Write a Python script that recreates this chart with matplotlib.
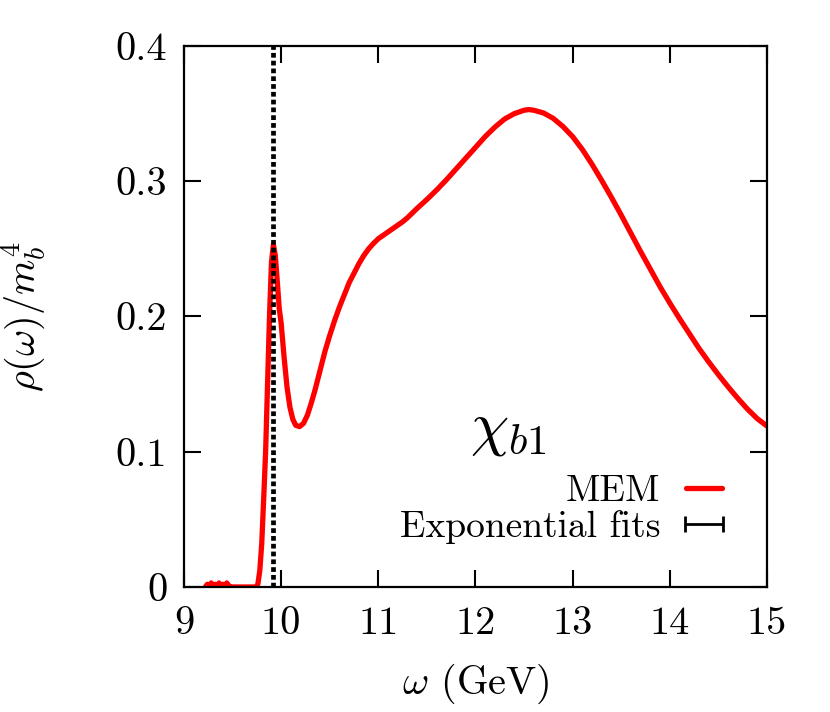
import numpy as np
import matplotlib
matplotlib.use("Agg")
import matplotlib.pyplot as plt

plt.rcParams['font.family'] = 'serif'
plt.rcParams['font.serif'] = ['cmr10']
plt.rcParams['mathtext.fontset'] = 'cm'
plt.rcParams['axes.unicode_minus'] = False

# MEM spectral function
omega = [9.22, 9.24, 9.26, 9.28, 9.30, 9.32, 9.34, 9.36, 9.38, 9.40, 9.42, 9.44, 9.46, 9.48,
         9.50, 9.60, 9.70, 9.74, 9.76, 9.78, 9.80, 9.82, 9.84, 9.86, 9.88, 9.90, 9.92,
         9.94, 9.96, 9.98, 10.00, 10.03, 10.06, 10.09, 10.12, 10.15, 10.19, 10.23,
         10.27, 10.31, 10.35, 10.40, 10.45, 10.50, 10.55, 10.60, 10.65, 10.70, 10.75,
         10.80, 10.85, 10.90, 10.95, 11.00, 11.05, 11.10, 11.15, 11.20, 11.25, 11.30,
         11.35, 11.40, 11.50, 11.60, 11.70, 11.80, 11.90, 12.00, 12.10, 12.20, 12.30,
         12.40, 12.50, 12.55, 12.60, 12.70, 12.80, 12.90, 13.00, 13.10, 13.20, 13.30,
         13.40, 13.50, 13.60, 13.70, 13.80, 13.90, 14.00, 14.10, 14.20, 14.30, 14.40,
         14.50, 14.60, 14.70, 14.80, 14.90, 15.00]
rho = [0.000, 0.002, -0.001, 0.003, 0.001, 0.002, -0.002, 0.003, 0.000, 0.002, -0.002, 0.003, 0.001, 0.000,
       0.000, 0.000, 0.000, 0.000, 0.002, 0.012, 0.032, 0.065, 0.100, 0.150, 0.200, 0.240, 0.253,
       0.245, 0.226, 0.206, 0.195, 0.170, 0.148, 0.133, 0.124, 0.1195, 0.1186, 0.121,
       0.127, 0.136, 0.146, 0.160, 0.174, 0.186, 0.197, 0.207, 0.216, 0.225, 0.232,
       0.239, 0.245, 0.250, 0.254, 0.2575, 0.260, 0.2625, 0.265, 0.2675, 0.270, 0.273,
       0.2765, 0.280, 0.2865, 0.2935, 0.301, 0.309, 0.317, 0.325, 0.333, 0.340, 0.346,
       0.350, 0.3525, 0.353, 0.3525, 0.3505, 0.3465, 0.3405, 0.333, 0.3235, 0.3125, 0.3005,
       0.288, 0.275, 0.2615, 0.248, 0.235, 0.222, 0.210, 0.1985, 0.1875, 0.1765, 0.1665,
       0.157, 0.148, 0.1395, 0.1315, 0.1245, 0.119]

# Exponential fit mass (GeV)
fit_mass = 9.92
fit_err = 0.01

xticks = [9, 10, 11, 12, 13, 14, 15]
yticks = [0, 0.1, 0.2, 0.3, 0.4]
yticklabels = ['0', '0.1', '0.2', '0.3', '0.4']

fig = plt.figure(figsize=(8.30, 7.12), dpi=100)
ax = fig.add_axes([0.2217, 0.1756, 0.924 - 0.2217, 0.9354 - 0.1756])

ax.axvline(fit_mass, color='black', lw=3.4, linestyle=(0, (1.0, 0.65)), zorder=3)
eb = ax.errorbar([fit_mass], [np.nan], xerr=[0.1], fmt='none', ecolor='black',
                 elinewidth=2.0, capsize=6, capthick=2.0)
line, = ax.plot(omega, rho, color='#ff0000', lw=3.8, zorder=2,
                solid_capstyle='round', solid_joinstyle='round')

ax.set_xlim(9, 15)
ax.set_ylim(0, 0.4)
ax.set_xticks(xticks)
ax.set_xticklabels([str(t) for t in xticks])
ax.set_yticks(yticks)
ax.set_yticklabels(yticklabels)
ax.tick_params(direction='in', length=12, width=1.5, labelsize=29, pad=14,
               top=True, right=True)
ax.tick_params(axis='y', pad=12)
for s in ax.spines.values():
    s.set_linewidth(1.6)

ax.set_xlabel(r'$\omega$ (GeV)', fontsize=29, labelpad=14)
ax.set_ylabel(r'$\rho(\omega)/m_b^4$', fontsize=29, labelpad=48)

ax.text(0.557, 0.29, r'$\chi_{b1}$', transform=ax.transAxes, fontsize=44,
        ha='center', va='center')

leg = ax.legend([line, eb], ['MEM', 'Exponential fits'], loc='lower right',
                bbox_to_anchor=(0.923, 0.08), frameon=False, markerfirst=False,
                fontsize=27, handlelength=0.95, handletextpad=0.7,
                borderpad=0, borderaxespad=0, labelspacing=0.05)

fig.savefig('out.png', dpi=100)
